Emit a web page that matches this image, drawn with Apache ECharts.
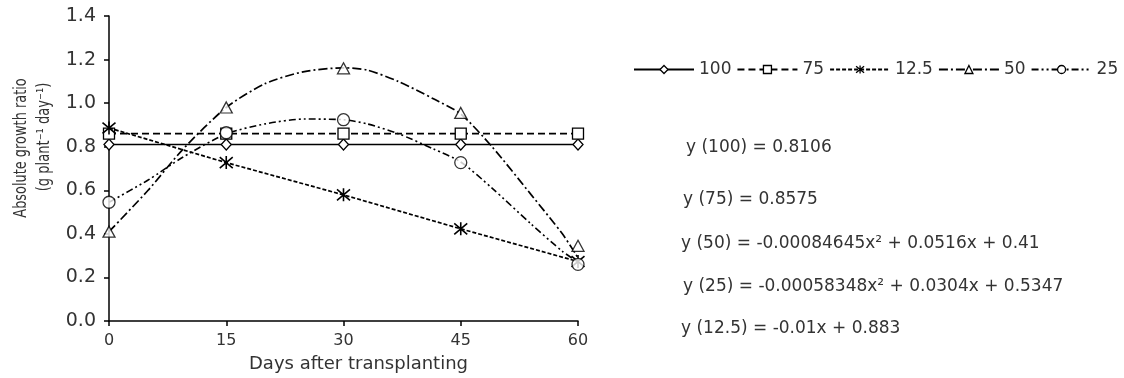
<!DOCTYPE html>
<html>
<head>
<meta charset="utf-8">
<script src="https://cdn.jsdelivr.net/npm/echarts@6/dist/echarts.min.js"></script>
<style>
  html, body { margin: 0; padding: 0; background: #fff; }
  #chart { width: 1124px; height: 378px; }
</style>
</head>
<body>
<div id="chart"></div>
<script>
// ---- data ----
const days = [0, 15, 30, 45, 60];
const seriesNames = ['100', '75', '12.5', '50', '25'];
const v100 = [0.81, 0.81, 0.81, 0.81, 0.81];
const v75 = [0.86, 0.86, 0.86, 0.86, 0.86];
const v125 = [0.886, 0.727, 0.579, 0.423, 0.273];
const v50 = [0.41, 0.98, 1.16, 0.955, 0.345];
const v25 = [0.545, 0.864, 0.924, 0.727, 0.26];
// fitted curves as drawn in the picture
const curve50Days = [0, 5, 9.5, 15, 20, 25, 30, 33, 37, 41.5, 45, 49, 54, 58, 60];
const curve50 = [0.41, 0.60, 0.79, 0.98, 1.09, 1.145, 1.162, 1.152, 1.10, 1.02, 0.95, 0.80, 0.58, 0.40, 0.29];
const curve25Days = [0, 5, 9.5, 15, 20, 25, 30, 33, 37, 41.5, 45, 49, 54, 58, 60];
const curve25 = [0.545, 0.647, 0.753, 0.859, 0.905, 0.927, 0.924, 0.905, 0.86, 0.79, 0.73, 0.61, 0.445, 0.32, 0.27];
const yTickLabels = ['0.0', '0.2', '0.4', '0.6', '0.8', '1.0', '1.2', '1.4'];
const xAxisTitle = 'Days after transplanting';
const yAxisTitle1 = 'Absolute growth ratio';
const yAxisTitle2 = '(g plant\u207B\u00B9 day\u207B\u00B9)';
const equations = [
  'y (100) = 0.8106',
  'y (75) = 0.8575',
  'y (50) = -0.00084645x\u00B2 + 0.0516x + 0.41',
  'y (25) = -0.00058348x\u00B2 + 0.0304x + 0.5347',
  'y (12.5) = -0.01x + 0.883'
];

// ---- styling ----
const FONT = 'DejaVu Sans';
const TXT = '#333';
const pairs = (xs, ys) => xs.map((x, i) => [x, ys[i]]);
const STAR = 'path://M0,0L10,10M10,0L0,10M5,-1L5,11';
const openItem = { color: '#fff', borderColor: '#000', borderWidth: 1.3 };

const chart = echarts.init(document.getElementById('chart'), null, { renderer: 'canvas' });

const eqX = [686, 683, 681, 683, 681];
const eqY = [148, 200, 244, 287, 329];

const option = {
  animation: false,
  backgroundColor: '#fff',
  grid: { left: 109, right: 546, top: 16, bottom: 54, containLabel: false },
  legend: {
    left: 633, top: 61, padding: 0, width: 491,
    itemWidth: 60, itemHeight: 10, itemGap: 5,
    textStyle: { fontFamily: FONT, fontSize: 17, color: TXT },
    data: seriesNames.map(n => ({ name: n, itemStyle: openItem }))
  },
  xAxis: {
    type: 'value', min: 0, max: 60, interval: 15,
    name: xAxisTitle, nameLocation: 'middle', nameGap: 34,
    nameTextStyle: { fontFamily: FONT, fontSize: 18, color: TXT, padding: [0, 0, 0, 30] },
    axisLine: { show: true, lineStyle: { color: '#000', width: 1.5 } },
    axisTick: { show: true, length: 5, lineStyle: { color: '#000', width: 1.5 } },
    axisLabel: { fontFamily: FONT, fontSize: 16, color: TXT, margin: 12 },
    splitLine: { show: false }
  },
  yAxis: {
    type: 'value', min: 0, max: 1.4, interval: 0.2,
    axisLine: { show: true, onZero: false, lineStyle: { color: '#000', width: 1.5 } },
    axisTick: { show: true, length: 5, lineStyle: { color: '#000', width: 1.5 } },
    axisLabel: {
      fontFamily: FONT, fontSize: 19, color: TXT, margin: 13,
      formatter: (v) => yTickLabels[Math.round(v / 0.2)]
    },
    splitLine: { show: false }
  },
  graphic: [
    { type: 'text', x: 22, y: 148, rotation: Math.PI / 2, scaleX: 0.76,
      style: { text: yAxisTitle1, font: '17px "DejaVu Sans"', fill: TXT, textAlign: 'center', textVerticalAlign: 'middle' } },
    { type: 'text', x: 45, y: 137, rotation: Math.PI / 2, scaleX: 0.77,
      style: { text: yAxisTitle2, font: '17px "DejaVu Sans"', fill: TXT, textAlign: 'center', textVerticalAlign: 'middle' } }
  ].concat(equations.map((t, i) => ({
    type: 'text', x: eqX[i], y: eqY[i],
    style: { text: t, font: '17px "DejaVu Sans"', fill: TXT, textAlign: 'left', textVerticalAlign: 'middle' }
  }))),
  series: [
    { name: '100', type: 'line', data: pairs(days, v100), symbol: 'diamond', symbolSize: [10, 11], showAllSymbol: true,
      lineStyle: { color: '#000', width: 1.4, type: 'solid' }, itemStyle: openItem, z: 3 },
    { name: '75', type: 'line', data: pairs(days, v75), symbol: 'rect', symbolSize: 11,
      lineStyle: { color: '#000', width: 1.8, type: [7, 4] }, itemStyle: openItem, z: 3 },
    { name: '12.5', type: 'line', data: pairs(days, v125), symbol: STAR, symbolSize: 13,
      lineStyle: { color: '#000', width: 1.7, type: [4, 2] }, itemStyle: { color: '#fff', borderColor: '#000', borderWidth: 1.6 }, z: 4 },
    { name: '50', type: 'line', data: pairs(curve50Days, curve50), symbol: 'triangle', showSymbol: false, smooth: 0.25,
      lineStyle: { color: '#000', width: 1.7, type: [9, 3, 2, 3] }, itemStyle: openItem, z: 2 },
    { name: '25', type: 'line', data: pairs(curve25Days, curve25), symbol: 'circle', showSymbol: false, smooth: 0.25,
      lineStyle: { color: '#000', width: 1.6, type: [7, 3, 2, 3, 2, 3] }, itemStyle: openItem, z: 2 },
    { name: '50', type: 'scatter', data: pairs(days, v50), symbol: 'triangle', symbolSize: [12, 11],
      itemStyle: openItem, z: 5 },
    { name: '25', type: 'scatter', data: pairs(days, v25), symbol: 'circle', symbolSize: 12,
      itemStyle: openItem, z: 5 }
  ]
};
chart.setOption(option);
</script>
</body>
</html>
